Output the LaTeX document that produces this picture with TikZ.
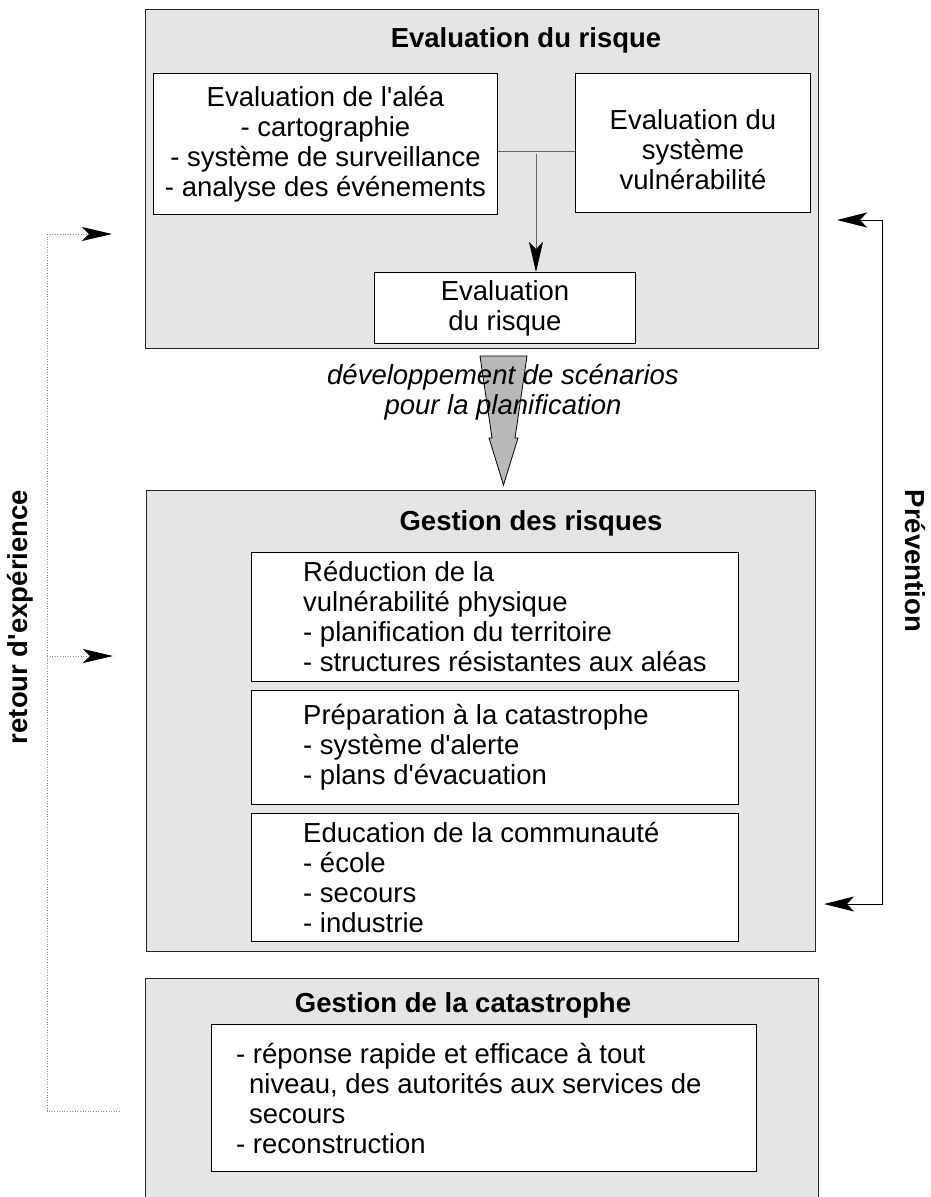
\documentclass[tikz,border=0pt]{standalone}
\usepackage{fontspec}
\setmainfont{Liberation Sans}[Ligatures=TeXOff]
\usetikzlibrary{arrows.meta}
\newcommand\bodyfont{\fontsize{27.5}{30}\selectfont}
\definecolor{panelgray}{gray}{0.9}
\definecolor{arrowgray}{gray}{0.72}

\begin{document}
\begin{tikzpicture}[x=1pt,y=-1pt,
  panel/.style={draw=black!85, line width=1.3pt, fill=panelgray, rectangle, inner sep=0pt, anchor=north west},
  ibox/.style={draw=black, line width=1pt, fill=white, rectangle, inner sep=0pt, anchor=north west, font=\bodyfont, align=center},
  btext/.style={font=\bodyfont, inner sep=0pt, align=left, anchor=west},
  ctext/.style={font=\bodyfont, inner sep=0pt, align=center},
  ptitle/.style={font=\bodyfont\bfseries, inner sep=0pt},
  blacktip/.style={-{Stealth[length=30pt,width=14pt,inset=7pt,color=black]}},
  dotline/.style={draw=black!45, line width=1pt, dash pattern=on 1pt off 1.6pt},
]
\useasboundingbox (0,0) rectangle (930,1197);

% ---------- risk assessment panel ----------
\node[panel, minimum width=673, minimum height=339] (evalp) at (145,9) {};
\node[ptitle] (evalt) at (526,40) {Evaluation du risque};
\node[ibox, minimum width=344, minimum height=141] (alea) at (153,73)
  {Evaluation de l'aléa\\- cartographie\\- système de surveillance\\- analyse des événements};
\node[ibox, minimum width=235, minimum height=139] (vuln) at (575,73) {};
\node[ctext] (vulnt) at ([yshift=-7pt]vuln.center)
  {Evaluation du\\système\\vulnérabilité};
\node[ibox, minimum width=261, minimum height=71] (risk) at (374,272)
  {Evaluation\\du risque};
\coordinate (join) at (536,151);
\draw[line width=1pt, black!60] (alea.east |- join) -- (vuln.west |- join);
\draw[line width=1pt, black!60, blacktip] ([yshift=-3pt]join) -- (risk.north -| join);

% ---------- scenario arrow between the panels ----------
\draw[fill=arrowgray, draw=black, line width=0.8pt]
  (480,356) -- (527,356) -- (515,438) -- (518,438) -- (503.5,485)
  -- (489,438) -- (492,438) -- cycle;
\node[font=\bodyfont\itshape, align=center, inner sep=0pt] (scen) at (503,392)
  {développement de scénarios\\pour la planification};

% ---------- risk management panel ----------
\node[panel, minimum width=669, minimum height=461] (gestp) at (146,490) {};
\node[ptitle] (gestt) at (531,523) {Gestion des risques};
\node[ibox, minimum width=487, minimum height=129] (redu) at (251,552) {};
\node[btext] (redut) at ([xshift=52pt]redu.west)
  {Réduction de la\\vulnérabilité physique\\- planification du territoire\\- structures résistantes aux aléas};
\node[ibox, minimum width=487, minimum height=114] (prep) at (251,690) {};
\node[btext] (prept) at ([xshift=52pt]prep.west)
  {Préparation à la catastrophe\\- système d'alerte\\- plans d'évacuation};
\node[ibox, minimum width=487, minimum height=128] (educ) at (251,813) {};
\node[btext] (educt) at ([xshift=52pt]educ.west)
  {Education de la communauté\\- école\\- secours\\- industrie};

% ---------- disaster management panel ----------
\node[panel, minimum width=673, minimum height=224] (catp) at (145,978) {};
\node[ptitle] (catt) at (463,1005) {Gestion de la catastrophe};
\node[ibox, minimum width=545, minimum height=147] (cat) at (211,1024) {};
\node[btext] (catxt) at ([xshift=25pt]cat.west)
  {- réponse rapide et efficace à tout\\\hspace*{0.47em}niveau, des autorités aux services de\\\hspace*{0.47em}secours\\- reconstruction};

% ---------- feedback loop on the left ----------
\coordinate (fbtop) at (112,234);
\coordinate (fbmid) at (113,656);
\coordinate (fbbot) at (120,1111);
\draw[dotline] (fbbot) -- (47,1111) -- (47,234);
\draw[dotline, blacktip] (47,234) -- (fbtop);
\draw[dotline, blacktip] (47,656) -- (fbmid);
\node[font=\bodyfont\bfseries, rotate=90, inner sep=0pt] (fblabel) at (20,617) {retour d'expérience};

% ---------- prevention loop on the right ----------
\coordinate (prtop) at (837,220);
\coordinate (prbot) at (824,904);
\draw[line width=1pt, {Stealth[length=30pt,width=15pt,inset=7pt]}-{Stealth[length=30pt,width=15pt,inset=7pt]}]
  (prtop) -- (882,220) -- (882,904) -- (prbot);
\node[font=\bodyfont\bfseries, rotate=-90, inner sep=0pt] (prlabel) at (915,561) {Prévention};
\end{tikzpicture}
\end{document}
